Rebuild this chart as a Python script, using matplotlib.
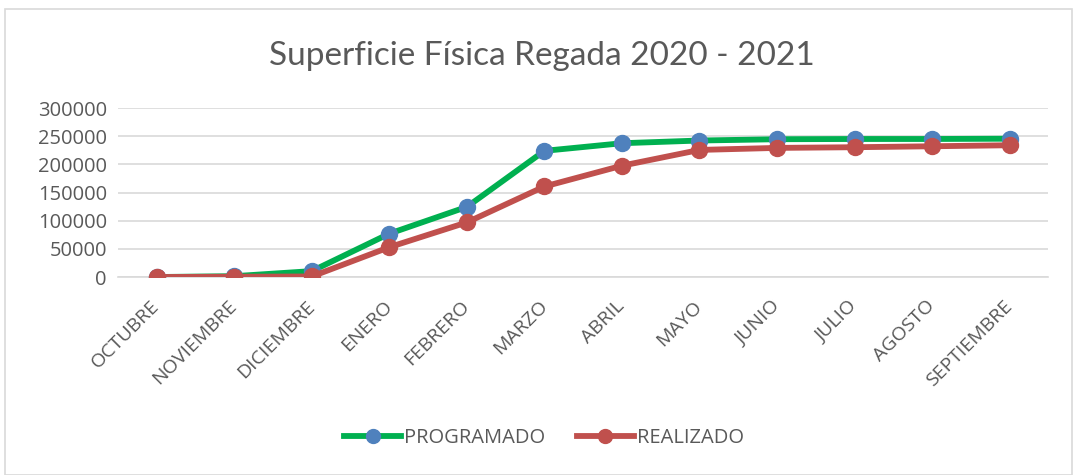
import matplotlib
matplotlib.use("Agg")
import matplotlib.pyplot as plt
from matplotlib.lines import Line2D
from matplotlib.patches import Rectangle

# months of the irrigation cycle
meses = ['OCTUBRE', 'NOVIEMBRE', 'DICIEMBRE', 'ENERO', 'FEBRERO', 'MARZO',
         'ABRIL', 'MAYO', 'JUNIO', 'JULIO', 'AGOSTO', 'SEPTIEMBRE']
# hectares
programado = [0, 1500, 10500, 77000, 124500, 224000,
              237500, 242300, 244600, 245000, 245000, 245500]
realizado = [0, 500, 1000, 53000, 97000, 160700,
             197600, 225600, 229200, 230400, 232100, 233900]
y_ticks = [0, 50000, 100000, 150000, 200000, 250000, 300000]

GREEN = '#00B050'
BLUE = '#4F81BD'
RED = '#C0504D'
TEXT = '#595959'
GRID = '#D9D9D9'

plt.rcParams['font.family'] = ['Open Sans', 'DejaVu Sans']

fig = plt.figure(figsize=(10.73, 4.75), dpi=100)
ax = fig.add_axes([0.110, 0.4168, 0.867, 0.3558])

x = list(range(len(meses)))
ax.plot(x, programado, color=GREEN, lw=4.2, marker='o', ms=11.5,
        mfc=BLUE, mec=BLUE, solid_joinstyle='round', zorder=3)
ax.plot(x, realizado, color=RED, lw=4.2, marker='o', ms=11.5,
        mfc=RED, mec=RED, solid_joinstyle='round', zorder=4)

ax.set_xlim(-0.5, len(meses) - 0.5)
ax.set_ylim(0, 300000)
ax.set_yticks(y_ticks)
ax.set_yticklabels([str(v) for v in y_ticks], fontsize=14.5, color=TEXT)
ax.set_xticks(x)
ax.set_xticklabels(meses, fontsize=14, color=TEXT, rotation=45,
                   ha='right', va='center', rotation_mode='anchor')
ax.tick_params(axis='both', length=0)
ax.tick_params(axis='x', pad=19)
ax.tick_params(axis='y', pad=8)
ax.grid(axis='y', color=GRID, lw=1.2)
ax.set_axisbelow(True)
for side in ['top', 'right', 'left']:
    ax.spines[side].set_visible(False)
ax.spines['bottom'].set_color(GRID)
ax.spines['bottom'].set_linewidth(1.2)

fig.text(0.505, 0.882, 'Superficie Física Regada 2020 - 2021',
         ha='center', va='center', fontsize=24, color=TEXT,
         family=['Lato', 'DejaVu Sans'])

# legend
handles = [
    Line2D([], [], color=GREEN, lw=4.2, marker='o', ms=10, mfc=BLUE, mec=BLUE),
    Line2D([], [], color=RED, lw=4.2, marker='o', ms=10, mfc=RED, mec=RED),
]
fig.legend(handles, ['PROGRAMADO', 'REALIZADO'], loc='center',
           bbox_to_anchor=(0.507, 0.077), ncol=2, frameon=False,
           fontsize=14.5, labelcolor=TEXT, handlelength=2.8,
           handletextpad=0.15, columnspacing=1.6)

# chart border
fig.patches.append(Rectangle((0.005, 0.0), 0.994, 0.982,
                             transform=fig.transFigure, fill=False,
                             edgecolor='#D9D9D9', lw=1.2))

fig.savefig('out.png', dpi=100)
